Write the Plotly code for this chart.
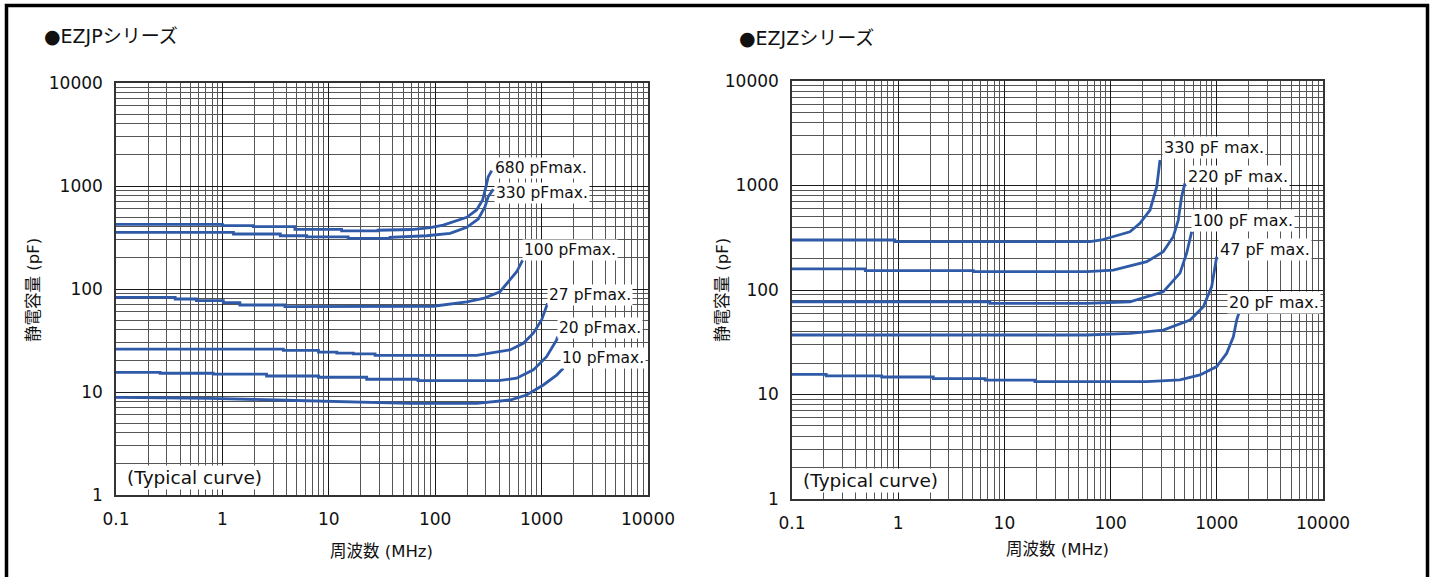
import plotly.graph_objects as go

W, H = 1436, 577

# ---------------- data (EZJP series, left) ----------------
x_ticks = [0.1, 1, 10, 100, 1000, 10000]
x_ticktext = ["0.1", "1", "10", "100", "1000", "10000"]
y_ticks = [1, 10, 100, 1000, 10000]
y_ticktext = ["1", "10", "100", "1000", "10000"]

p680_f = [0.1, 1.0, 1.0, 1.95, 1.95, 4.8, 4.8, 13.2, 13.2, 29, 29, 60, 90, 119, 198, 245, 279, 300, 315, 340]
p680_c = [425, 425, 412, 412, 403, 403, 380, 380, 366, 366, 372, 378, 395, 418, 497, 585, 731, 984, 1230, 1409]

p330_f = [0.1, 1.27, 1.27, 3.5, 3.5, 6.2, 6.2, 15.2, 15.2, 37.6, 37.6, 83, 138, 198, 254, 294, 315, 352]
p330_c = [355, 355, 342, 342, 329, 329, 320, 320, 310, 310, 318, 329, 347, 397, 479, 630, 788, 929]

p100_f = [0.1, 0.36, 0.36, 0.57, 0.57, 1.02, 1.02, 1.46, 1.46, 3.87, 3.87, 96, 198, 283, 406, 505, 583, 664]
p100_c = [83.0, 83.0, 80.0, 80.0, 77.0, 77.0, 73.6, 73.6, 69.9, 69.9, 67.5, 68.0, 75, 81, 94, 122, 147, 191]

p27_f = [0.1, 3.74, 3.74, 8.0, 8.0, 11.9, 11.9, 17, 17, 27.2, 27.2, 245, 327, 505, 673, 836, 1000, 1138]
p27_c = [26.1, 26.1, 25.4, 25.4, 24.4, 24.4, 23.9, 23.9, 23.4, 23.4, 22.7, 22.7, 23.8, 25.6, 29.7, 37.2, 50, 72.6]

p20_f = [0.1, 0.26, 0.26, 0.82, 0.82, 2.6, 2.6, 8.0, 8.0, 22.7, 22.7, 69, 69, 392, 583, 836, 1114, 1384, 1413]
p20_c = [15.5, 15.5, 15.2, 15.2, 14.9, 14.9, 14.3, 14.3, 13.9, 13.9, 13.3, 13.3, 12.9, 12.9, 13.6, 16.4, 22.0, 32.0, 34.5]

p10_f = [0.1, 0.76, 3.24, 13.7, 58, 245, 505, 722, 1038, 1384, 1600]
p10_c = [8.87, 8.69, 8.36, 8.0, 7.77, 7.77, 8.36, 9.35, 11.7, 14.6, 17.0]

# ---------------- data (EZJZ series, right) ----------------
z330_f = [0.1, 0.93, 0.93, 64, 82, 106, 152, 189, 235, 272, 292]
z330_c = [301, 301, 290, 290, 301, 324, 361, 435, 583, 975, 1754]

z220_f = [0.1, 0.49, 0.49, 5.1, 5.1, 60, 106, 219, 313, 389, 434, 466, 501]
z220_c = [159, 159, 153, 153, 150, 150, 155, 187, 232, 324, 467, 781, 1049]

z100_f = [0.1, 7.3, 7.3, 60, 152, 313, 450, 520, 580]
z100_c = [77.2, 77.2, 74.6, 74.6, 77.2, 96, 145, 225, 361]

z47_f = [0.1, 60, 152, 313, 560, 747, 895, 998]
z47_c = [37.1, 37.1, 38.5, 41.4, 51.6, 69.2, 108, 208]

z20_f = [0.1, 0.21, 0.21, 0.70, 0.70, 2.14, 2.14, 6.6, 6.6, 19.4, 19.4, 219, 450, 695, 998, 1239, 1432, 1539, 1630]
z20_c = [15.6, 15.6, 15.1, 15.1, 14.7, 14.7, 14.2, 14.2, 13.7, 13.7, 13.3, 13.3, 13.8, 15.4, 18.5, 24.8, 35.7, 51.6, 62]

left_labels = ["680 pFmax.", "330 pFmax.", "100 pFmax.", "27 pFmax.", "20 pFmax.", "10 pFmax."]
right_labels = ["330 pF max.", "220 pF max.", "100 pF max.", "47 pF max.", "20 pF max."]

# minor grid values
x_minor = [k * 10 ** e for e in range(-1, 4) for k in range(2, 10)]
y_minor = [k * 10 ** e for e in range(0, 4) for k in range(2, 10)]

FONT = "DejaVu Sans, Noto Sans CJK JP, sans-serif"
LINE = "#2f5aa8"

fig = go.Figure()

for f, c in [(p680_f, p680_c), (p330_f, p330_c), (p100_f, p100_c),
             (p27_f, p27_c), (p20_f, p20_c), (p10_f, p10_c)]:
    fig.add_trace(go.Scatter(x=f, y=c, mode="lines", line=dict(color=LINE, width=2.8),
                             xaxis="x", yaxis="y", showlegend=False, hoverinfo="skip"))
for f, c in [(z330_f, z330_c), (z220_f, z220_c), (z100_f, z100_c),
             (z47_f, z47_c), (z20_f, z20_c)]:
    fig.add_trace(go.Scatter(x=f, y=c, mode="lines", line=dict(color=LINE, width=2.8),
                             xaxis="x2", yaxis="y2", showlegend=False, hoverinfo="skip"))


def px_x(p):
    return p / W


def px_y(p):
    return 1 - p / H


def xaxis(domain, anchor):
    return dict(type="log", domain=domain, anchor=anchor, range=[-1, 4],
                tickvals=x_ticks, ticktext=x_ticktext, ticks="", ticklabelstandoff=8,
                showgrid=True, gridcolor="#1a1a1a", gridwidth=1,
                minor=dict(tickvals=x_minor, showgrid=True, gridcolor="#555555", gridwidth=1, ticks=""),
                showline=True, linecolor="#333333", linewidth=1.5, mirror=True,
                zeroline=False, automargin=False,
                tickfont=dict(size=17, color="#111", family=FONT))


def yaxis(domain, anchor):
    return dict(type="log", domain=domain, anchor=anchor, range=[0, 4],
                tickvals=y_ticks, ticktext=y_ticktext, ticks="", ticklabelstandoff=8,
                showgrid=True, gridcolor="#1a1a1a", gridwidth=1,
                minor=dict(tickvals=y_minor, showgrid=True, gridcolor="#555555", gridwidth=1, ticks=""),
                showline=True, linecolor="#333333", linewidth=1.5, mirror=True,
                zeroline=False, automargin=False,
                tickfont=dict(size=17, color="#111", family=FONT))


fig.update_layout(
    width=W, height=H, margin=dict(l=0, r=0, t=0, b=0, pad=0, autoexpand=False),
    paper_bgcolor="white", plot_bgcolor="white",
    font=dict(family=FONT, color="#111"),
    xaxis=xaxis([px_x(116), px_x(648)], "y"),
    yaxis=yaxis([px_y(495), px_y(83)], "x"),
    xaxis2=xaxis([px_x(792), px_x(1323)], "y2"),
    yaxis2=yaxis([px_y(499), px_y(81)], "x2"),
)

ann = []


def add_text(text, x, y, size, xanchor="left", yanchor="middle", bg=None, angle=0):
    d = dict(text=text, x=px_x(x), y=px_y(y), xref="paper", yref="paper",
             xanchor=xanchor, yanchor=yanchor, showarrow=False, textangle=angle,
             font=dict(size=size, color="#111", family=FONT))
    if bg:
        d.update(bgcolor=bg, borderpad=1)
    ann.append(d)


# titles
add_text("●EZJPシリーズ", 42, 36, 19)
add_text("●EZJZシリーズ", 737, 38, 19)
# axis titles
add_text("周波数 (MHz)", 381, 551, 16.5, xanchor="center")
add_text("周波数 (MHz)", 1057, 549, 16.5, xanchor="center")
add_text("静電容量 (pF)", 33, 290, 16.5, xanchor="center", angle=-90)
add_text("静電容量 (pF)", 722, 290, 16.5, xanchor="center", angle=-90)
# typical curve
add_text("(Typical curve)", 125, 477, 18.5, bg="white")
add_text("(Typical curve)", 801, 480, 18.5, bg="white")
# curve labels
for t, (x, y) in zip(left_labels, [(493, 168), (494, 193), (522, 250), (547, 295), (557, 328), (560, 358)]):
    add_text(t, x, y, 15.5, bg="white")
for t, (x, y) in zip(right_labels, [(1162, 147), (1186, 176), (1191, 220), (1218, 249), (1227, 302)]):
    add_text(t, x, y, 16, bg="white")

fig.update_layout(annotations=ann)

# outer frame (left, top, right)
fig.add_shape(type="path", xref="paper", yref="paper",
              path=f"M {px_x(6.5)} 0 L {px_x(6.5)} {px_y(5.5)} L {px_x(1427.5)} {px_y(5.5)} L {px_x(1427.5)} 0",
              line=dict(color="black", width=3.5))

fig.write_html("out.html", config={"displayModeBar": False},
               post_script="document.body.style.margin='0';document.body.style.overflow='hidden';")
